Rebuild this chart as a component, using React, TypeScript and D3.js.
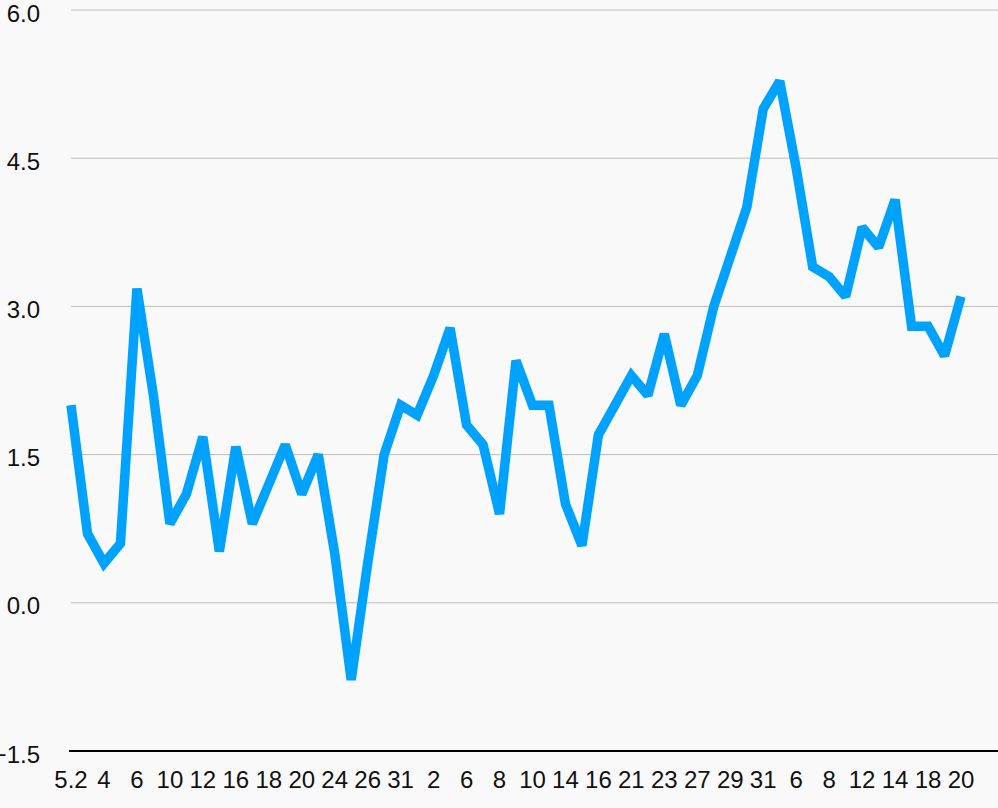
import React from "react";
import * as d3 from "d3";

const tickLabels = ["5.2","4","6","10","12","16","18","20","24","26","31","2","6","8","10","14","16","21","23","27","29","31","6","8","12","14","18","20"];
const values = [
  2.0, 0.7, 0.4, 0.6, 3.18, 2.1, 0.8, 1.1, 1.68, 0.52,
  1.58, 0.8, 1.2, 1.6, 1.1, 1.5, 0.5, -0.78, 0.4, 1.5,
  2.0, 1.9, 2.3, 2.78, 1.8, 1.6, 0.9, 2.45, 2.0, 2.0,
  1.0, 0.58, 1.7, 2.0, 2.3, 2.1, 2.72, 2.0, 2.3, 3.0,
  3.5, 4.0, 5.0, 5.28, 4.4, 3.4, 3.3, 3.1, 3.8, 3.6,
  4.08, 2.8, 2.8, 2.5, 3.1
];
const yTicks = [-1.5, 0, 1.5, 3.0, 4.5, 6.0];

export default function App() {
  const W = 998, H = 808;
  const x = d3.scalePoint<number>().domain(values.map((_, i) => i)).range([71, 961]);
  const y = d3.scaleLinear().domain([-1.5, 6]).range([751, 10]);
  const line = d3.line<number>().x((_, i) => x(i)!).y(d => y(d));
  const font = "'Liberation Sans', Arial, Helvetica, sans-serif";
  return (
    <svg width={W} height={H} style={{ position: "absolute", left: 0, top: 0, background: "#f9f9f9" }}>
      <rect x={0} y={0} width={W} height={H} fill="#f9f9f9" />
      {yTicks.map(t => (
        <g key={t}>
          {t !== -1.5 && <line x1={71} x2={W} y1={y(t)} y2={y(t)} stroke="#bdbdbd" strokeWidth={1} />}
          <text x={40} y={y(t) + 11.5} textAnchor="end" fontFamily={font} fontSize={24} fill="#111">{d3.format(".1f")(t)}</text>
        </g>
      ))}
      <line x1={69} x2={W} y1={y(-1.5)} y2={y(-1.5)} stroke="#000" strokeWidth={2} />
      {tickLabels.map((l, k) => (
        <text key={k} x={x(k * 2)!} y={788} textAnchor="middle" fontFamily={font} fontSize={24} fill="#111">{l}</text>
      ))}
      <path d={line(values)!} fill="none" stroke="#00a2ff" strokeWidth={9.5} strokeLinejoin="miter" strokeMiterlimit={2} />
    </svg>
  );
}
